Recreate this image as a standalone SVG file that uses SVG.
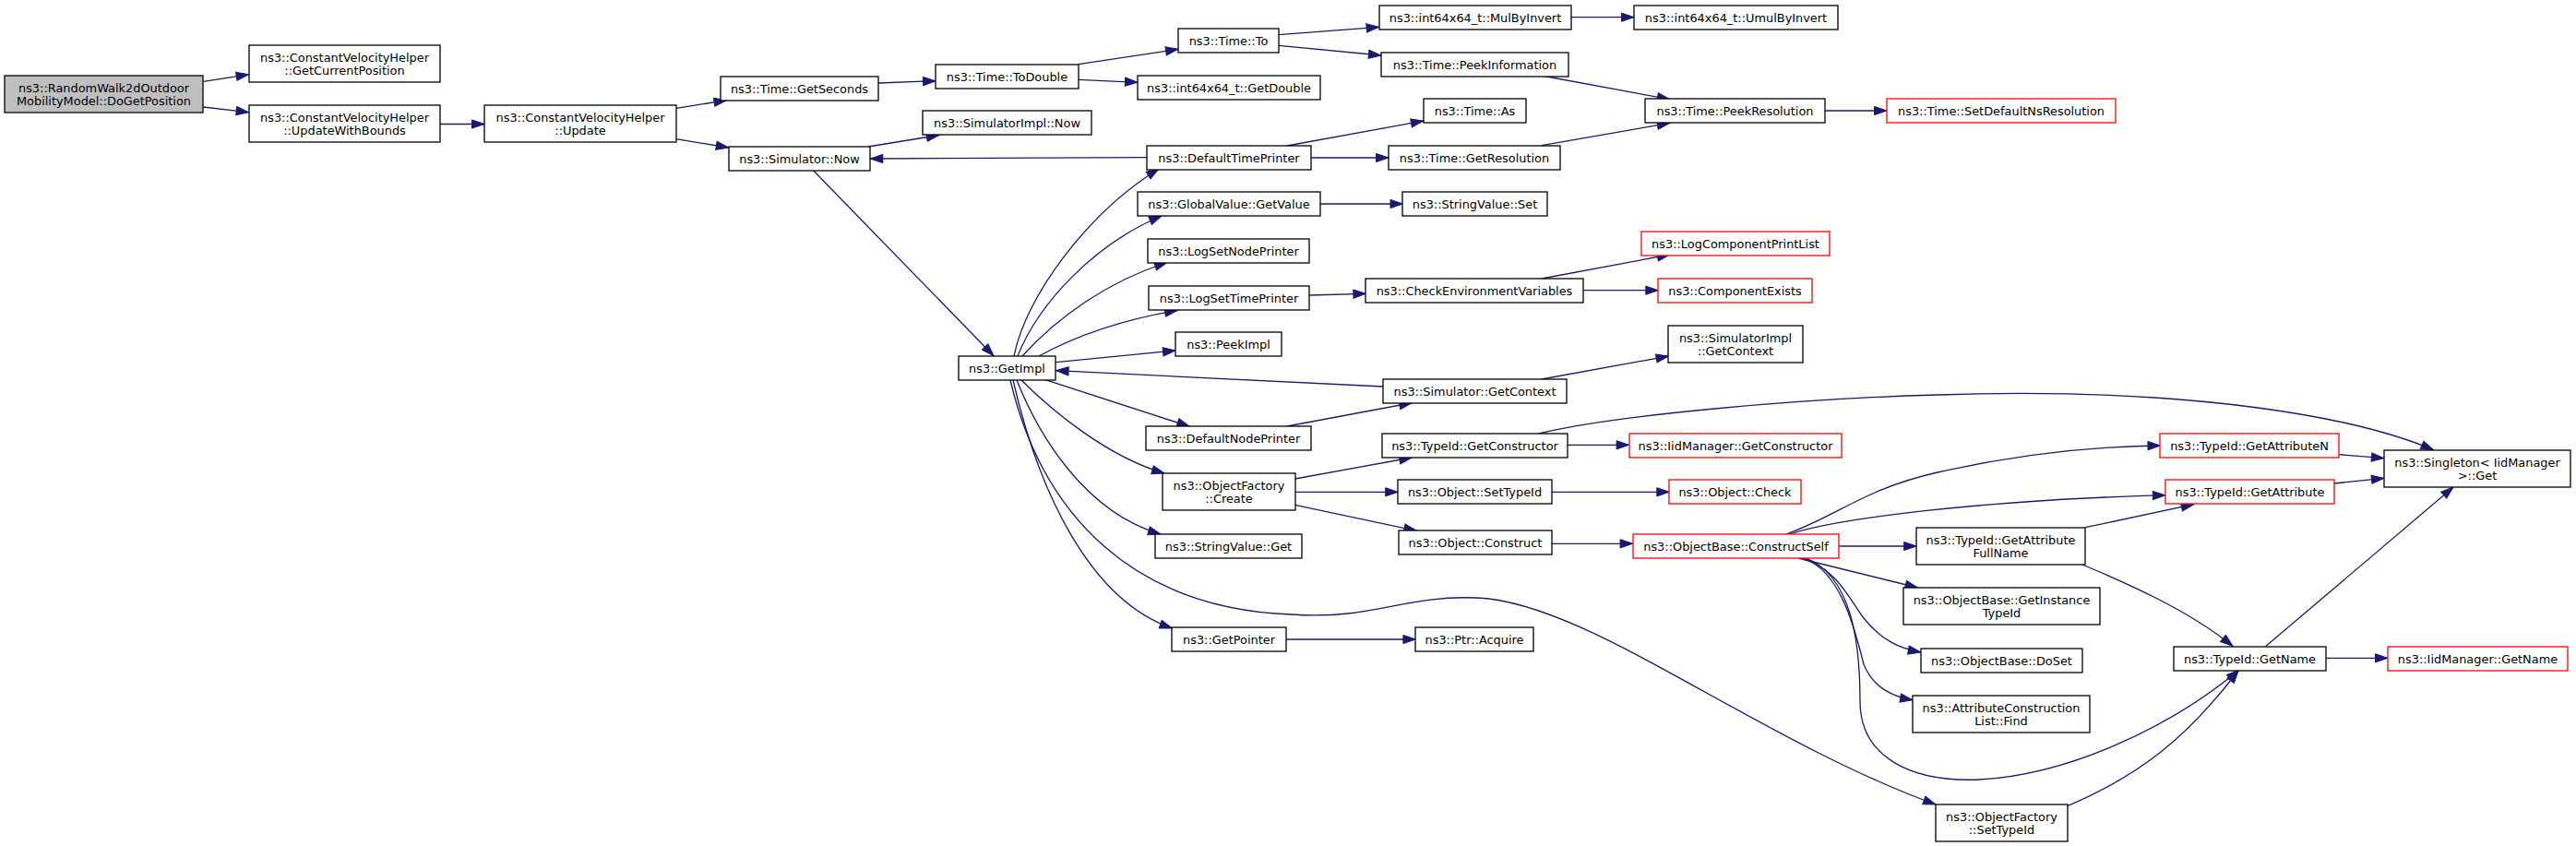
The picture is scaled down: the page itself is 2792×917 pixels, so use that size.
<svg xmlns="http://www.w3.org/2000/svg" width="2792" height="917" viewBox="0 0 2792 917">
<style>
.n rect{fill:#fff;stroke:#000;stroke-width:1.3}
.n.r rect{stroke:#ff0000}
.n.root rect{fill:#bfbfbf}
.n text{font-family:"DejaVu Sans",sans-serif;font-size:12.9px;fill:#000;text-anchor:middle}
.e path{fill:none;stroke:#191970;stroke-width:1.3;marker-end:url(#ah)}
</style>
<defs>
<marker id="ah" markerUnits="userSpaceOnUse" markerWidth="14" markerHeight="10" refX="13.5" refY="4.6" orient="auto" overflow="visible"><path d="M0,0 L13.5,4.6 L0,9.2 z" fill="#191970" stroke="#191970" stroke-width="1"/></marker>
</defs>
<rect width="2792" height="917" fill="#fff"/>
<g id="edges" class="e">
<path d="M220.5,88.3 L269.6,80.7"/>
<path d="M220.5,116 L269.6,121.7"/>
<path d="M477,134.5 L525,134.5"/>
<path d="M733,117.3 L787.5,108.7"/>
<path d="M733,150.7 L789.7,160"/>
<path d="M952,90 L1014,87.7"/>
<path d="M1169,69.7 L1277,53.3"/>
<path d="M1169,86.3 L1233,89.3"/>
<path d="M941,159 L1017.8,146.5"/>
<path d="M1243,170.7 L943.3,172"/>
<path d="M881,184.3 L1077,385.7"/>
<path d="M1099,386 C1112,320 1180,230 1256,183"/>
<path d="M1103,386 C1125,330 1185,265 1259,234"/>
<path d="M1108,386 C1145,345 1200,305 1265,284.5"/>
<path d="M1126,386 C1170,362 1220,346 1276,336.5"/>
<path d="M1144.6,392.7 L1274,380"/>
<path d="M1499,419 L1144.6,401.7"/>
<path d="M1133,411.7 L1289.3,462.3"/>
<path d="M1107,412 C1140,445 1200,495 1262,513"/>
<path d="M1102,412 C1125,470 1175,555 1258,579"/>
<path d="M1098,412 C1125,530 1180,650 1270.5,681"/>
<path d="M1095,412 C1130,560 1230,660 1400,666 C1490,672 1520,645 1600,648 C1720,652 1900,800 2098,872"/>
<path d="M1386,37.7 L1494.6,29.3"/>
<path d="M1386,49.3 L1496.9,60"/>
<path d="M1703,18.7 L1771,18.7"/>
<path d="M1671,82 L1809.8,107.7"/>
<path d="M1395,158 L1542.8,131"/>
<path d="M1420.5,171 L1505,171"/>
<path d="M1671,157.7 L1809.8,133.3"/>
<path d="M1978.5,120 L2045,120"/>
<path d="M1431,221 L1520.5,221"/>
<path d="M1418.7,320 L1480.4,318.3"/>
<path d="M1671,302 L1809.8,276"/>
<path d="M1716.5,314.7 L1797.3,314.7"/>
<path d="M1395,462 L1530.3,436.7"/>
<path d="M1671,411 L1808.5,386"/>
<path d="M1668,470 C1750,450 1950,432 2100,428 C2260,422 2420,432 2540,458 C2585,468 2615,478 2637.5,487.7"/>
<path d="M1699,482.3 L1765.6,482.3"/>
<path d="M1403.6,519 L1530.3,496"/>
<path d="M1403.6,533.3 L1515.2,533.3"/>
<path d="M1403.6,547.3 L1535.3,575.3"/>
<path d="M1682,533.3 L1809.3,533.3"/>
<path d="M1681.7,589.3 L1769.6,589.3"/>
<path d="M1993,592 L2077.2,592"/>
<path d="M1936,579 C1990,560 2020,530 2100,512 C2180,494 2260,484 2341.5,483"/>
<path d="M1940,579 C1990,562 2150,542 2346.9,536.7"/>
<path d="M1949,605 L2078.5,637"/>
<path d="M1952,605 C1990,615 2005,650 2020,670 C2040,695 2060,703 2081.7,707"/>
<path d="M1955,605 C1995,620 2010,680 2020,720 C2030,745 2050,755 2073,758.7"/>
<path d="M1958,605 C2005,625 2016,690 2016,760 C2016,820 2070,848 2145,845 C2240,840 2350,790 2426.8,726.3"/>
<path d="M2260.3,571.7 L2377.7,546.7"/>
<path d="M2257,612 C2300,630 2370,660 2420,700.3"/>
<path d="M2240.7,873.7 C2320,840 2370,800 2426,727"/>
<path d="M2521,713.3 L2588,713.3"/>
<path d="M2456,700.3 L2659,528"/>
<path d="M2535.3,492.7 L2583.9,496.7"/>
<path d="M2530,524 L2583.9,518.3"/>
<path d="M1394,693 L1534.4,693"/>
</g>
<g id="n_root" class="n root"><rect x="5" y="82" width="215" height="40"/><text x="112.5" y="99.5">ns3::RandomWalk2dOutdoor</text><text x="112.5" y="113.5">MobilityModel::DoGetPosition</text></g>
<g id="n_gcp" class="n"><rect x="270" y="49" width="207" height="40"/><text x="373.5" y="66.5">ns3::ConstantVelocityHelper</text><text x="373.5" y="80.5">::GetCurrentPosition</text></g>
<g id="n_uwb" class="n"><rect x="270" y="114" width="207" height="40"/><text x="373.5" y="131.5">ns3::ConstantVelocityHelper</text><text x="373.5" y="145.5">::UpdateWithBounds</text></g>
<g id="n_upd" class="n"><rect x="525" y="114" width="208" height="40"/><text x="629" y="131.5">ns3::ConstantVelocityHelper</text><text x="629" y="145.5">::Update</text></g>
<g id="n_gsec" class="n"><rect x="781" y="83" width="171" height="26"/><text x="866.5" y="100.5">ns3::Time::GetSeconds</text></g>
<g id="n_simnow" class="n"><rect x="790" y="159" width="153" height="26"/><text x="866.5" y="176.5">ns3::Simulator::Now</text></g>
<g id="n_todbl" class="n"><rect x="1014" y="70" width="155" height="26"/><text x="1091.5" y="87.5">ns3::Time::ToDouble</text></g>
<g id="n_simimplnow" class="n"><rect x="1000" y="120" width="183" height="26"/><text x="1091.5" y="137.5">ns3::SimulatorImpl::Now</text></g>
<g id="n_getimpl" class="n"><rect x="1039" y="386" width="105" height="26"/><text x="1091.5" y="403.5">ns3::GetImpl</text></g>
<g id="n_to" class="n"><rect x="1277" y="31" width="109" height="26"/><text x="1331.5" y="48.5">ns3::Time::To</text></g>
<g id="n_getdbl" class="n"><rect x="1233" y="82" width="198" height="26"/><text x="1332" y="99.5">ns3::int64x64_t::GetDouble</text></g>
<g id="n_dtp" class="n"><rect x="1243" y="158" width="178" height="26"/><text x="1332" y="175.5">ns3::DefaultTimePrinter</text></g>
<g id="n_gvgv" class="n"><rect x="1233" y="208" width="198" height="26"/><text x="1332" y="225.5">ns3::GlobalValue::GetValue</text></g>
<g id="n_lsnp" class="n"><rect x="1244" y="259" width="175" height="26"/><text x="1331.5" y="276.5">ns3::LogSetNodePrinter</text></g>
<g id="n_lstp" class="n"><rect x="1245" y="310" width="174" height="26"/><text x="1332" y="327.5">ns3::LogSetTimePrinter</text></g>
<g id="n_peekimpl" class="n"><rect x="1274" y="360" width="115" height="26"/><text x="1331.5" y="377.5">ns3::PeekImpl</text></g>
<g id="n_dnp" class="n"><rect x="1242" y="462" width="179" height="26"/><text x="1331.5" y="479.5">ns3::DefaultNodePrinter</text></g>
<g id="n_ofcreate" class="n"><rect x="1260" y="513" width="144" height="40"/><text x="1332" y="530.5">ns3::ObjectFactory</text><text x="1332" y="544.5">::Create</text></g>
<g id="n_svget" class="n"><rect x="1252" y="579" width="159" height="26"/><text x="1331.5" y="596.5">ns3::StringValue::Get</text></g>
<g id="n_getptr" class="n"><rect x="1270" y="680" width="124" height="26"/><text x="1332" y="697.5">ns3::GetPointer</text></g>
<g id="n_mulbyinv" class="n"><rect x="1495" y="6" width="208" height="26"/><text x="1599" y="23.5">ns3::int64x64_t::MulByInvert</text></g>
<g id="n_peekinfo" class="n"><rect x="1497" y="57" width="203" height="26"/><text x="1598.5" y="74.5">ns3::Time::PeekInformation</text></g>
<g id="n_as" class="n"><rect x="1543" y="107" width="111" height="26"/><text x="1598.5" y="124.5">ns3::Time::As</text></g>
<g id="n_getres" class="n"><rect x="1505" y="158" width="186" height="26"/><text x="1598" y="175.5">ns3::Time::GetResolution</text></g>
<g id="n_svset" class="n"><rect x="1520" y="208" width="157" height="26"/><text x="1598.5" y="225.5">ns3::StringValue::Set</text></g>
<g id="n_cev" class="n"><rect x="1480" y="302" width="236" height="26"/><text x="1598" y="319.5">ns3::CheckEnvironmentVariables</text></g>
<g id="n_simgc" class="n"><rect x="1499" y="411" width="199" height="26"/><text x="1598.5" y="428.5">ns3::Simulator::GetContext</text></g>
<g id="n_tgc" class="n"><rect x="1498" y="470" width="201" height="26"/><text x="1598.5" y="487.5">ns3::TypeId::GetConstructor</text></g>
<g id="n_osti" class="n"><rect x="1515" y="520" width="167" height="26"/><text x="1598.5" y="537.5">ns3::Object::SetTypeId</text></g>
<g id="n_ocons" class="n"><rect x="1516" y="575" width="166" height="26"/><text x="1599" y="592.5">ns3::Object::Construct</text></g>
<g id="n_ptracq" class="n"><rect x="1534" y="680" width="128" height="26"/><text x="1598" y="697.5">ns3::Ptr::Acquire</text></g>
<g id="n_umul" class="n"><rect x="1771" y="6" width="221" height="26"/><text x="1881.5" y="23.5">ns3::int64x64_t::UmulByInvert</text></g>
<g id="n_peekres" class="n"><rect x="1783" y="107" width="195" height="26"/><text x="1880.5" y="124.5">ns3::Time::PeekResolution</text></g>
<g id="n_lcpl" class="n r"><rect x="1779" y="251" width="204" height="26"/><text x="1881" y="268.5">ns3::LogComponentPrintList</text></g>
<g id="n_compex" class="n r"><rect x="1797" y="302" width="167" height="26"/><text x="1880.5" y="319.5">ns3::ComponentExists</text></g>
<g id="n_simimplgc" class="n"><rect x="1808" y="353" width="146" height="40"/><text x="1881" y="370.5">ns3::SimulatorImpl</text><text x="1881" y="384.5">::GetContext</text></g>
<g id="n_iidgc" class="n r"><rect x="1766" y="470" width="230" height="26"/><text x="1881" y="487.5">ns3::IidManager::GetConstructor</text></g>
<g id="n_ocheck" class="n r"><rect x="1809" y="520" width="143" height="26"/><text x="1880.5" y="537.5">ns3::Object::Check</text></g>
<g id="n_cself" class="n r"><rect x="1770" y="579" width="223" height="26"/><text x="1881.5" y="596.5">ns3::ObjectBase::ConstructSelf</text></g>
<g id="n_setdef" class="n r"><rect x="2045" y="107" width="248" height="26"/><text x="2169" y="124.5">ns3::Time::SetDefaultNsResolution</text></g>
<g id="n_gafn" class="n"><rect x="2077" y="572" width="183" height="40"/><text x="2168.5" y="589.5">ns3::TypeId::GetAttribute</text><text x="2168.5" y="603.5">FullName</text></g>
<g id="n_gita" class="n"><rect x="2063" y="637" width="213" height="40"/><text x="2169.5" y="654.5">ns3::ObjectBase::GetInstance</text><text x="2169.5" y="668.5">TypeId</text></g>
<g id="n_doset" class="n"><rect x="2082" y="703" width="175" height="26"/><text x="2169.5" y="720.5">ns3::ObjectBase::DoSet</text></g>
<g id="n_acl" class="n"><rect x="2073" y="754" width="192" height="40"/><text x="2169" y="771.5">ns3::AttributeConstruction</text><text x="2169" y="785.5">List::Find</text></g>
<g id="n_ofsti" class="n"><rect x="2098" y="872" width="143" height="40"/><text x="2169.5" y="889.5">ns3::ObjectFactory</text><text x="2169.5" y="903.5">::SetTypeId</text></g>
<g id="n_gan" class="n r"><rect x="2341" y="470" width="194" height="26"/><text x="2438" y="487.5">ns3::TypeId::GetAttributeN</text></g>
<g id="n_ga" class="n r"><rect x="2347" y="520" width="183" height="26"/><text x="2438.5" y="537.5">ns3::TypeId::GetAttribute</text></g>
<g id="n_getname" class="n"><rect x="2356" y="701" width="165" height="26"/><text x="2438.5" y="718.5">ns3::TypeId::GetName</text></g>
<g id="n_single" class="n"><rect x="2584" y="488" width="202" height="40"/><text x="2685" y="505.5">ns3::Singleton&lt; IidManager</text><text x="2685" y="519.5">&gt;::Get</text></g>
<g id="n_iidgn" class="n r"><rect x="2588" y="701" width="195" height="26"/><text x="2685.5" y="718.5">ns3::IidManager::GetName</text></g>
</svg>
